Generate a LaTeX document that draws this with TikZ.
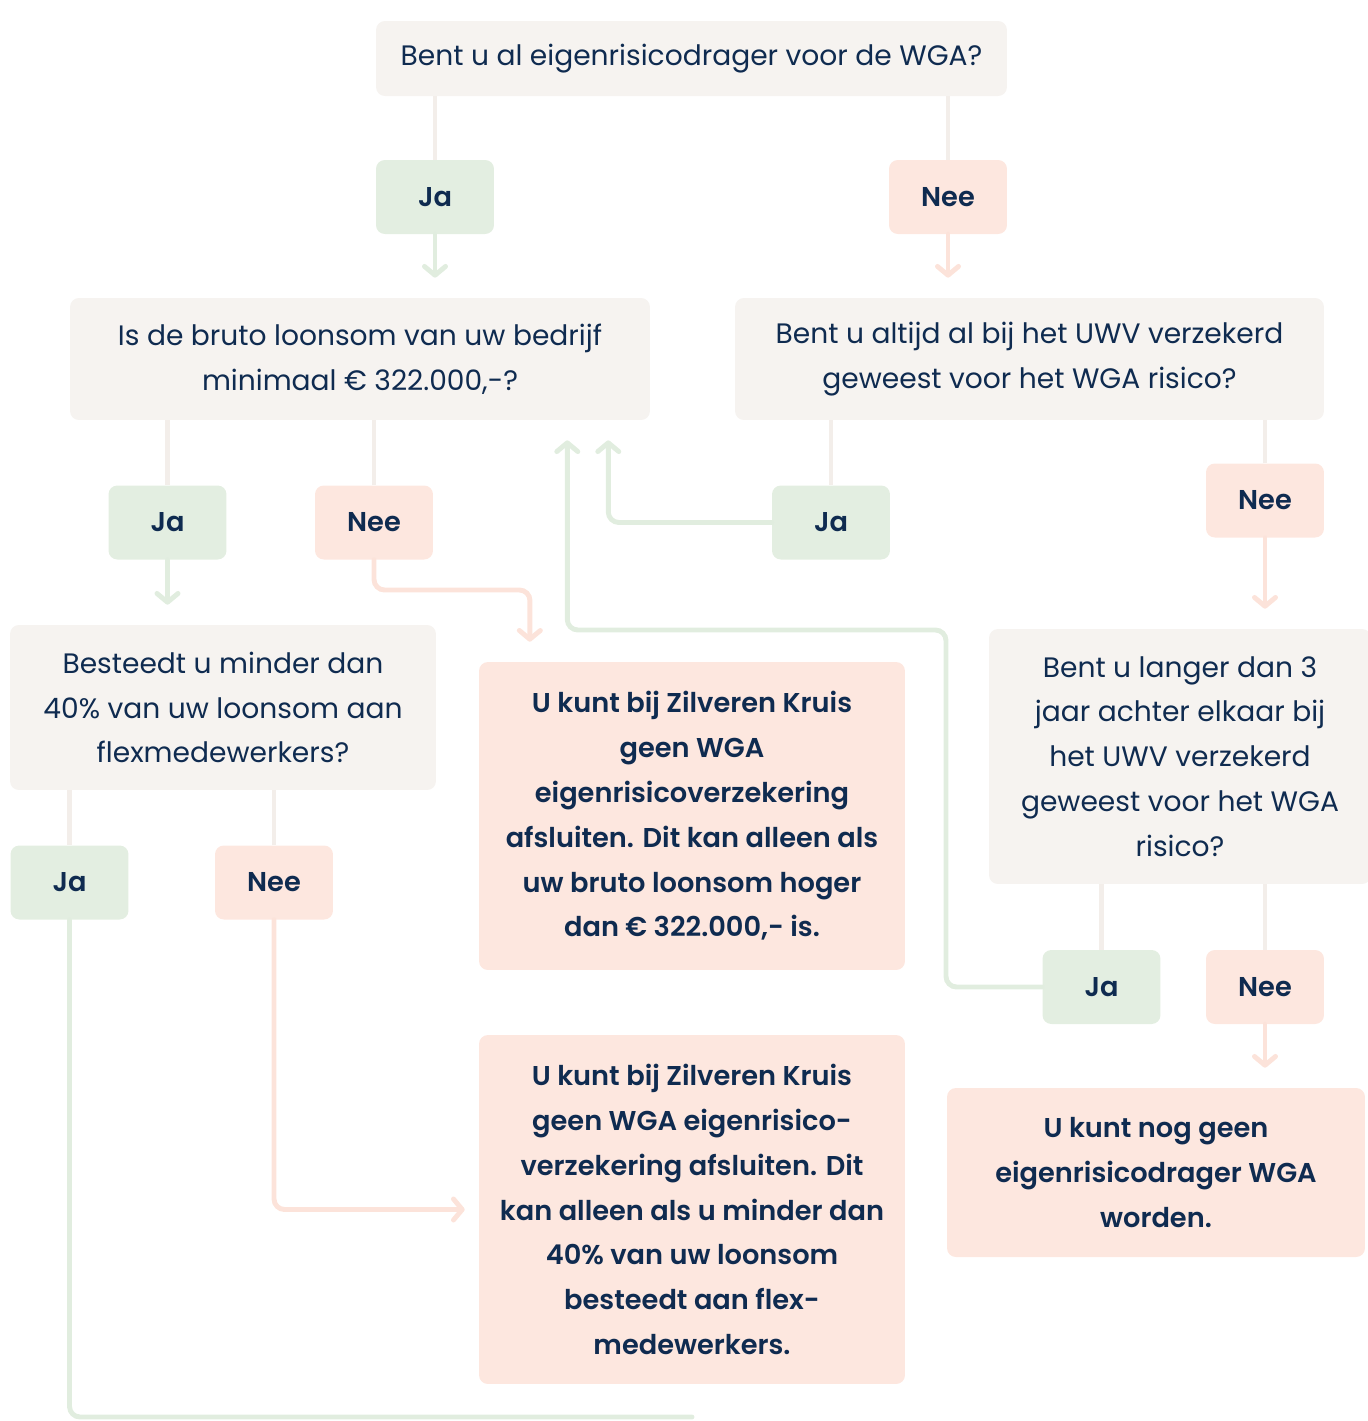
\documentclass[tikz,border=0pt]{standalone}
\usepackage{fontspec}
\setmainfont{Poppins}[BoldFont={Poppins SemiBold}]
\usepackage{tikz}
\usetikzlibrary{arrows.meta, calc}

\definecolor{navy}{HTML}{0F2B50}
\definecolor{greybox}{HTML}{F6F3F0}
\definecolor{greenbox}{HTML}{E3EEE1}
\definecolor{pinkbox}{HTML}{FDE7DF}
\definecolor{greyline}{HTML}{F3EEEA}
\definecolor{greenline}{HTML}{E1EDDF}
\definecolor{pinkline}{HTML}{FCE3DA}

\begin{document}
\begin{tikzpicture}[x=0.02cm,y=-0.02cm,
		font=\fontsize{16}{25.5}\selectfont, text=navy,
		box/.style={rounded corners=5pt, align=center, inner sep=0pt},
		question/.style={box, fill=greybox},
		answer/.style={box, font=\fontsize{15.5}{25.5}\selectfont\bfseries,
			minimum width=2.36cm, minimum height=1.48cm},
		yes/.style={answer, fill=greenbox},
		no/.style={answer, fill=pinkbox},
		result/.style={box, fill=pinkbox, font=\fontsize{15.5}{25.5}\selectfont\bfseries},
		link/.style={draw=greyline, line width=2.8pt},
		tip/.style={-{Straight Barb[length=5pt,width=12pt,round]}, shorten >=0.4cm},
		yesline/.style={draw=greenline, line width=2.8pt, rounded corners=6pt, line cap=round},
		noline/.style={draw=pinkline, line width=2.8pt, rounded corners=6pt, line cap=round}]
	\useasboundingbox (0,0) rectangle (1367,1421);

	% vragen
	\node[question, minimum width=12.62cm, minimum height=1.5cm]  (q1) at (691.5,58.5)  {Bent u al eigenrisicodrager voor de WGA?};
	\node[question, minimum width=11.6cm, minimum height=2.44cm]  (q2) at (360,359)     {Is de bruto loonsom van uw bedrijf\\minimaal € 322.000,-?};
	\node[question, minimum width=11.78cm, minimum height=2.44cm] (q3) at (1029.5,359)  {Bent u altijd al bij het UWV verzekerd\\geweest voor het WGA risico?};
	\node[question, minimum width=8.52cm, minimum height=3.3cm]   (q4) at (223,707.5)   {Besteedt u minder dan\\40\% van uw loonsom aan\\flexmedewerkers?};
	\node[question, minimum width=7.64cm, minimum height=5.1cm]   (q5) at (1180,756.5)  {Bent u langer dan 3\\jaar achter elkaar bij\\het UWV verzekerd\\geweest voor het WGA\\risico?};

	% antwoorden
	\node[yes] (ja1)  at (435,197)     {Ja};
	\node[no]  (nee1) at (948,197)     {Nee};
	\node[yes] (ja2)  at (167.5,522.5) {Ja};
	\node[no]  (nee2) at (374,522.5)   {Nee};
	\node[yes] (ja3)  at (831,522.5)   {Ja};
	\node[no]  (nee3) at (1265,500.5)  {Nee};
	\node[yes] (ja4)  at (69.5,882.5)  {Ja};
	\node[no]  (nee4) at (274,882.5)   {Nee};
	\node[yes] (ja5)  at (1101.5,987)  {Ja};
	\node[no]  (nee5) at (1265,987)    {Nee};

	% uitkomsten
	\node[result, minimum width=8.52cm, minimum height=6.16cm] (r1) at (692,816)
		{U kunt bij Zilveren Kruis\\geen WGA\\eigenrisicoverzekering\\afsluiten. Dit kan alleen als\\uw bruto loonsom hoger\\dan € 322.000,- is.};
	\node[result, minimum width=8.52cm, minimum height=6.98cm] (r2) at (692,1209.5)
		{U kunt bij Zilveren Kruis\\geen WGA eigenrisico-\\verzekering afsluiten. Dit\\kan alleen als u minder dan\\40\% van uw loonsom\\besteedt aan flex-\\medewerkers.};
	\node[result, minimum width=8.36cm, minimum height=3.38cm] (r3) at (1156,1172.5)
		{U kunt nog geen\\eigenrisicodrager WGA\\worden.};

	\coordinate (ja4end) at (692,1417);

	% vraag naar antwoord
	\draw[link] (ja1.north)  -- (ja1.north |- q1.south);
	\draw[link] (nee1.north) -- (nee1.north |- q1.south);
	\draw[link] (ja2.north)  -- (ja2.north |- q2.south);
	\draw[link] (nee2.north) -- (nee2.north |- q2.south);
	\draw[link] (ja3.north)  -- (ja3.north |- q3.south);
	\draw[link] (nee3.north) -- (nee3.north |- q3.south);
	\draw[link] (ja4.north)  -- (ja4.north |- q4.south);
	\draw[link] (nee4.north) -- (nee4.north |- q4.south);
	\draw[link] (ja5.north)  -- (ja5.north |- q5.south);
	\draw[link] (nee5.north) -- (nee5.north |- q5.south);

	% antwoord naar volgende stap
	\draw[yesline, tip] (ja1.south) -- (ja1.south |- q2.north);
	\draw[noline, tip]  (nee1.south) -- (nee1.south |- q3.north);
	\draw[yesline, tip] (ja2.south) -- (ja2.south |- q4.north);
	\draw[noline, tip]  (nee2.south) |- (530,590) -- ($(r1.north west)+(51,0)$);
	\draw[yesline, tip] (ja3.west) -| ($(q2.south east)+(-42,0)$);
	\draw[noline, tip]  (nee3.south) -- (nee3.south |- q5.north);
	\draw[yesline]      (ja4.south) |- (ja4end);
	\draw[noline, tip, shorten >=0.28cm] (nee4.south) |- (r2.west);
	\draw[yesline, tip] (ja5.west) -| (946,630) -| ($(q2.south east)+(-83,0)$);
	\draw[noline, tip]  (nee5.south) -- (nee5.south |- r3.north);
\end{tikzpicture}
\end{document}
